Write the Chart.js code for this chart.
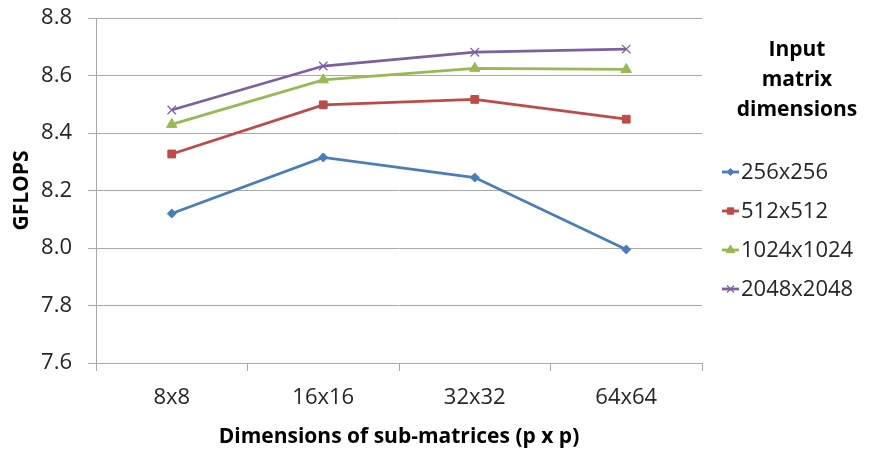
<!DOCTYPE html>
<html lang="en">
<head>
<meta charset="UTF-8">
<title>GFLOPS vs sub-matrix size</title>
<script src="https://cdn.jsdelivr.net/npm/chart.js"></script>
<style>
  html, body { margin: 0; padding: 0; background: #fff; }
  #wrap { width: 873px; height: 450px; }
</style>
</head>
<body>
<div id="wrap"><canvas id="chart" width="873" height="450"></canvas></div>
<script>
  const categories = ["8x8", "16x16", "32x32", "64x64"];
  const seriesNames = ["256x256", "512x512", "1024x1024", "2048x2048"];
  const gflops256 = [8.12, 8.315, 8.245, 7.995];
  const gflops512 = [8.327, 8.498, 8.517, 8.448];
  const gflops1024 = [8.43, 8.585, 8.625, 8.621];
  const gflops2048 = [8.48, 8.633, 8.681, 8.692];
  const legendTitle = ["Input", "matrix", "dimensions"];

  const FONT = "'Open Sans', sans-serif";
  const GRID = "#a9a9a9";

  const styles = [
    { color: "#4a7ebb", pointStyle: "rectRot", radius: 4.5, borderWidth: 1 },
    { color: "#be4b48", pointStyle: "rect", radius: 5.5, borderWidth: 1 },
    { color: "#98b954", pointStyle: "triangle", radius: 6, borderWidth: 1 },
    { color: "#7d60a0", pointStyle: "crossRot", radius: 6, borderWidth: 1.2 }
  ];
  const values = [gflops256, gflops512, gflops1024, gflops2048];

  const datasets = values.map((data, i) => ({
    label: seriesNames[i],
    data: data,
    borderColor: styles[i].color,
    backgroundColor: styles[i].color,
    borderWidth: 2.8,
    pointStyle: styles[i].pointStyle,
    pointRadius: styles[i].radius,
    pointBorderWidth: styles[i].borderWidth,
    pointBorderColor: styles[i].color,
    pointBackgroundColor: styles[i].color,
    tension: 0
  }));

  function drawMarker(ctx, style, x, y) {
    const opts = { pointStyle: style.pointStyle, radius: style.radius - 1, rotation: 0, borderWidth: style.borderWidth };
    ctx.save();
    ctx.fillStyle = style.color;
    ctx.strokeStyle = style.color;
    ctx.lineWidth = style.borderWidth;
    if (Chart.helpers && Chart.helpers.drawPoint) {
      Chart.helpers.drawPoint(ctx, opts, x, y);
    } else {
      ctx.beginPath();
      ctx.arc(x, y, opts.radius, 0, Math.PI * 2);
      ctx.fill();
    }
    ctx.restore();
  }

  // right-hand legend with a three line heading
  const sideLegend = {
    id: "sideLegend",
    afterDraw(chart) {
      const ctx = chart.ctx;
      const right = chart.chartArea.right;
      ctx.save();
      ctx.fillStyle = "#000";
      ctx.font = "bold 21px " + FONT;
      ctx.textAlign = "center";
      ctx.textBaseline = "middle";
      legendTitle.forEach((t, i) => ctx.fillText(t, right + 95, 50 + i * 30));

      ctx.font = "22px " + FONT;
      ctx.textAlign = "left";
      seriesNames.forEach((name, i) => {
        const y = 172 + i * 39;
        const st = styles[i];
        ctx.strokeStyle = st.color;
        ctx.lineWidth = 2.8;
        ctx.beginPath();
        ctx.moveTo(right + 20, y);
        ctx.lineTo(right + 37, y);
        ctx.stroke();
        drawMarker(ctx, st, right + 28.5, y);
        ctx.fillStyle = "#262626";
        ctx.fillText(name, right + 39, y + 1);
      });
      ctx.restore();
    }
  };

  new Chart(document.getElementById("chart"), {
    type: "line",
    data: { labels: categories, datasets: datasets },
    options: {
      responsive: false,
      animation: false,
      layout: { padding: { top: 18, right: 171, bottom: 0, left: 0 } },
      plugins: {
        legend: { display: false },
        tooltip: { enabled: false }
      },
      scales: {
        x: {
          offset: true,
          afterFit: s => { s.height = 87; s.paddingLeft = 0; s.paddingRight = 0; },
          grid: { offset: true, drawOnChartArea: false, color: GRID, tickLength: 8, lineWidth: 1 },
          border: { color: GRID, width: 1 },
          ticks: { color: "#262626", font: { family: FONT, size: 22 }, padding: 14, maxRotation: 0 },
          title: {
            display: true,
            text: "Dimensions of sub-matrices (p x p)",
            color: "#000",
            font: { family: FONT, size: 21, weight: "bold" },
            padding: { top: 0, bottom: 0 }
          }
        },
        y: {
          min: 7.6,
          max: 8.8,
          afterFit: s => { s.width = 96; s.paddingTop = 0; s.paddingBottom = 0; },
          grid: { color: GRID, tickLength: 8, lineWidth: 1 },
          border: { color: GRID, width: 1 },
          ticks: {
            stepSize: 0.2,
            color: "#262626",
            font: { family: FONT, size: 22 },
            padding: 16,
            callback: v => Number(v).toFixed(1)
          },
          title: {
            display: true,
            text: "GFLOPS",
            color: "#000",
            font: { family: FONT, size: 21, weight: "bold" },
            padding: { top: 9, bottom: 0 }
          }
        }
      }
    },
    plugins: [sideLegend]
  });
</script>
</body>
</html>
